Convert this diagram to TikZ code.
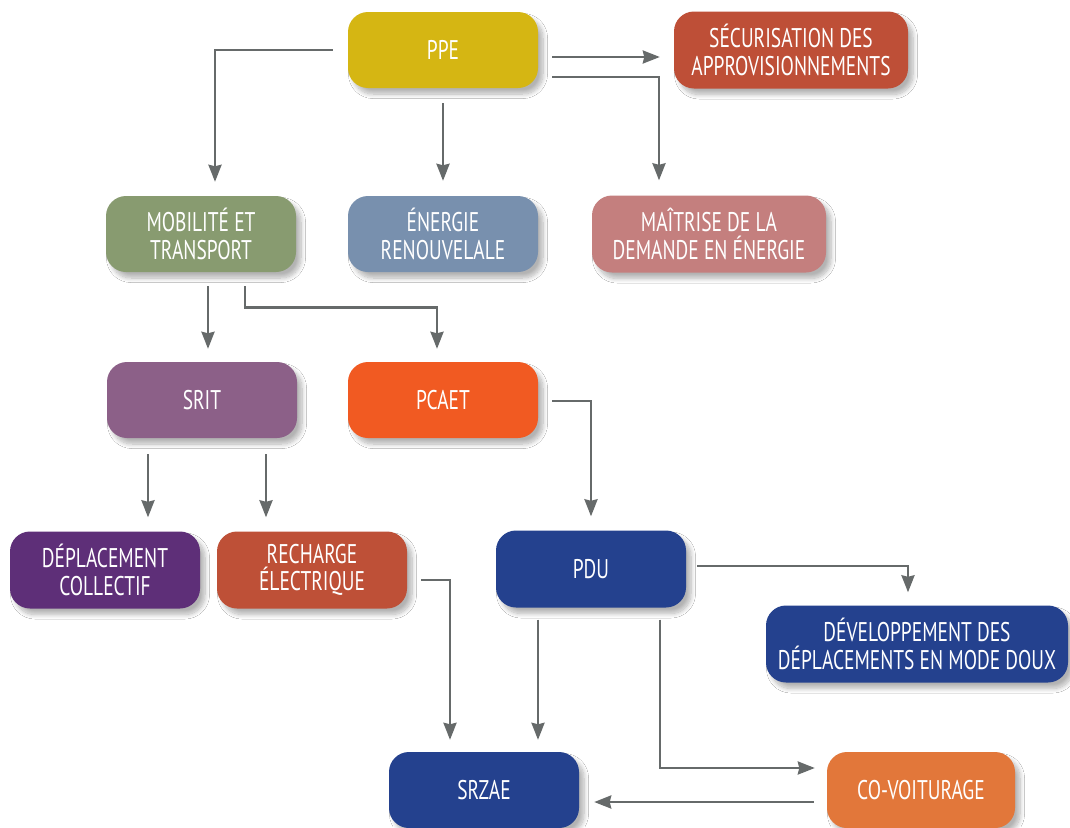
\documentclass[tikz,border=0pt]{standalone}
\usepackage{fontspec}
\usetikzlibrary{arrows.meta,shadows.blur}
\newfontfamily\boxfont{PT Sans}[FakeStretch=0.72]

\definecolor{cPPE}{HTML}{D5B613}
\definecolor{cSEC}{HTML}{BE4F37}
\definecolor{cMOB}{HTML}{889B70}
\definecolor{cENR}{HTML}{7890AE}
\definecolor{cMDE}{HTML}{C47F7E}
\definecolor{cSRIT}{HTML}{8C6088}
\definecolor{cPCAET}{HTML}{F15A22}
\definecolor{cDEP}{HTML}{5E2F78}
\definecolor{cRECH}{HTML}{BE5037}
\definecolor{cBLUE}{HTML}{24418E}
\definecolor{cCOV}{HTML}{E2773A}
\definecolor{cLINE}{HTML}{666A6A}

\tikzset{
  box/.style={rectangle, rounded corners=20pt, inner sep=0pt,
    minimum width=190pt, minimum height=76pt, align=center,
    text=white, font=\boxfont\fontsize{27}{27.5}\selectfont,
    blur shadow={shadow xshift=5pt, shadow yshift=-6pt,
      shadow blur radius=4.5pt, shadow blur steps=10,
      shadow blur extra rounding=3pt, shadow opacity=30}},
  wide/.style={minimum width=234pt, minimum height=77pt},
  conn/.style={draw=cLINE, line width=2.7pt,
    -{Stealth[length=17pt,width=13pt,inset=1.5pt]}}
}

\begin{document}
\begin{tikzpicture}[x=1pt,y=-1pt]
\useasboundingbox[fill=white] (0,0) rectangle (1070,827);

% boxes
\node[box, fill=cPPE] (ppe) at (443,50) {PPE};
\node[box, wide, fill=cSEC] (sec) at (791,50) {SÉCURISATION DES\\APPROVISIONNEMENTS};
\node[box, fill=cMOB] (mob) at (201,234) {MOBILITÉ ET\\TRANSPORT};
\node[box, fill=cENR] (ener) at (443,234) {ÉNERGIE\\RENOUVELALE};
\node[box, wide, fill=cMDE] (mai) at (709,234) {MAÎTRISE DE LA\\DEMANDE EN ÉNERGIE};
\node[box, fill=cSRIT] (srit) at (202,400) {SRIT};
\node[box, fill=cPCAET] (pcaet) at (443,400) {PCAET};
\node[box, minimum height=77pt, fill=cDEP] (dep) at (105,570) {DÉPLACEMENT\\COLLECTIF};
\node[box, minimum height=77pt, fill=cRECH] (rech) at (312,570) {RECHARGE\\ÉLECTRIQUE};
\node[box, minimum height=77pt, fill=cBLUE] (pdu) at (591,569) {PDU};
\node[box, minimum width=302pt, minimum height=77pt, fill=cBLUE] (dev) at (917,644) {DÉVELOPPEMENT DES\\DÉPLACEMENTS EN MODE DOUX};
\node[box, fill=cBLUE] (srzae) at (484,790) {SRZAE};
\node[box, minimum width=188pt, fill=cCOV] (cov) at (921,790) {CO-VOITURAGE};

% connectors
\draw[conn] ([xshift=-15pt]ppe.west) -| ([xshift=14pt,yshift=14pt]mob.north);
\draw[conn] ([yshift=-15pt]ppe.south) -- ([yshift=15pt]ener.north);
\draw[conn] ([xshift=14pt,yshift=-7pt]ppe.east) -- ([xshift=-14pt,yshift=-7pt]sec.west);
\draw[conn] ([xshift=14pt,yshift=-27pt]ppe.east) -| ([xshift=-50pt,yshift=15pt]mai.north);

\draw[conn] ([xshift=7pt,yshift=-14pt]mob.south) -- ([xshift=6pt,yshift=13pt]srit.north);
\draw[conn] ([xshift=44pt,yshift=-14pt]mob.south) -- ++(0pt,-21pt) -| ([xshift=-6pt,yshift=13pt]pcaet.north);

\draw[conn] ([xshift=-54pt,yshift=-16pt]srit.south) -- ([xshift=43pt,yshift=14pt]dep.north);
\draw[conn] ([xshift=64pt,yshift=-16pt]srit.south) -- ([xshift=-46pt,yshift=14pt]rech.north);

\draw[conn] ([xshift=14pt,yshift=-1pt]pcaet.east) -| ([yshift=14pt]pdu.north);

\draw[conn] ([xshift=14pt,yshift=-10pt]rech.east) -| ([xshift=-34pt,yshift=12pt]srzae.north);
\draw[conn] ([xshift=-53pt,yshift=-12pt]pdu.south) -- ([xshift=54pt,yshift=12pt]srzae.north);
\draw[conn] ([xshift=11pt,yshift=3pt]pdu.east) -| ([xshift=-9pt,yshift=13pt]dev.north);
\draw[conn] ([xshift=69pt,yshift=-12pt]pdu.south) |- ([xshift=-12pt,yshift=22pt]cov.west);
\draw[conn] ([xshift=-13pt,yshift=-12pt]cov.west) -- ([xshift=15pt,yshift=-12pt]srzae.east);
\end{tikzpicture}
\end{document}
